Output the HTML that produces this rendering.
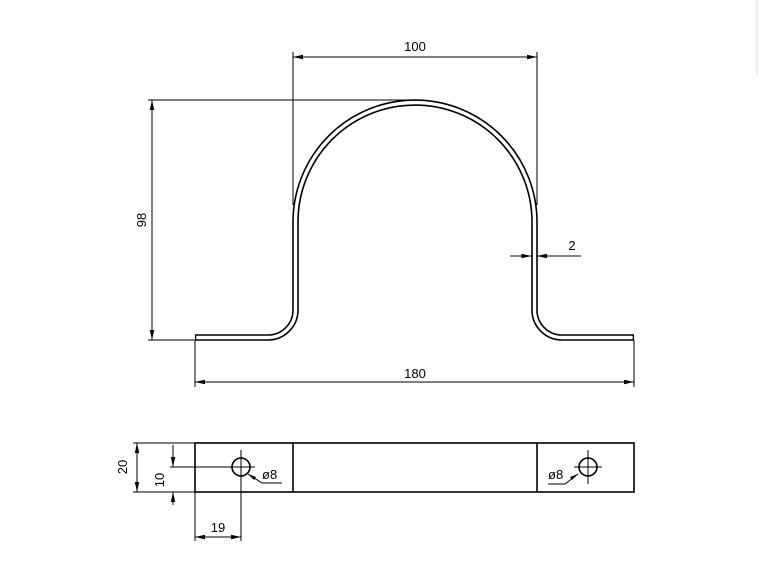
<!DOCTYPE html>
<html><head><meta charset="utf-8"><style>
html,body{margin:0;padding:0;background:#fff;width:769px;height:577px;overflow:hidden}
svg{display:block}
text{font-family:"Liberation Sans",sans-serif;font-size:13px;fill:#000}
</style></head><body>
<svg width="769" height="577" viewBox="0 0 769 577" xmlns="http://www.w3.org/2000/svg">
<defs>
<marker id="a" viewBox="0 0 10 6" refX="10" refY="3" markerWidth="10" markerHeight="6" markerUnits="userSpaceOnUse" orient="auto-start-reverse"><path d="M0,0.8 L10,3 L0,5.2z" fill="#000"/></marker>
</defs>
<line x1="757" y1="0" x2="757" y2="75" stroke="#ddd" stroke-width="1"/>
<!-- strip -->
<path d="M195,337.5 H268 A27.5,27.5 0 0 0 295.5,310 V222 A119.5,119.5 0 0 1 534.5,222 V310 A27.5,27.5 0 0 0 562,337.5 H634" fill="none" stroke="#000" stroke-width="6.6"/>
<path d="M196.3,337.5 H268 A27.5,27.5 0 0 0 295.5,310 V222 A119.5,119.5 0 0 1 534.5,222 V310 A27.5,27.5 0 0 0 562,337.5 H632.7" fill="none" stroke="#fff" stroke-width="3.4"/>
<g stroke="#000" stroke-width="1" fill="none">
<!-- 100 -->
<line x1="293" y1="52" x2="293" y2="205"/>
<line x1="537" y1="52" x2="537" y2="205"/>
<line x1="293" y1="57" x2="537" y2="57" marker-start="url(#a)" marker-end="url(#a)"/>
<!-- 98 -->
<line x1="148" y1="100" x2="415" y2="100"/>
<line x1="148" y1="340" x2="195" y2="340"/>
<line x1="152" y1="100" x2="152" y2="340" marker-start="url(#a)" marker-end="url(#a)"/>
<!-- 180 -->
<line x1="195" y1="340" x2="195" y2="387"/>
<line x1="634" y1="340" x2="634" y2="387"/>
<line x1="195" y1="382" x2="634" y2="382" marker-start="url(#a)" marker-end="url(#a)"/>
<!-- 2 -->
<line x1="510" y1="256" x2="531.5" y2="256" marker-end="url(#a)"/>
<line x1="581" y1="256" x2="537" y2="256" marker-end="url(#a)"/>
</g>
<text x="415" y="51" text-anchor="middle">100</text>
<text x="0" y="0" text-anchor="middle" transform="translate(146,220) rotate(-90)">98</text>
<text x="415" y="378" text-anchor="middle">180</text>
<text x="572" y="250" text-anchor="middle">2</text>
<!-- bottom view -->
<g stroke="#000" fill="none">
<rect x="195" y="443" width="439" height="49" stroke-width="1.6"/>
<line x1="293" y1="443" x2="293" y2="492" stroke-width="1.6"/>
<line x1="537" y1="443" x2="537" y2="492" stroke-width="1.6"/>
<circle cx="241" cy="467" r="9" stroke-width="1.6"/>
<circle cx="588" cy="467" r="9" stroke-width="1.6"/>
<g stroke-width="1">
<line x1="170" y1="467" x2="255" y2="467"/>
<line x1="241" y1="450" x2="241" y2="541"/>
<line x1="574" y1="467" x2="602" y2="467"/>
<line x1="588" y1="450" x2="588" y2="484"/>
<line x1="133" y1="443" x2="195" y2="443"/>
<line x1="133" y1="492" x2="195" y2="492"/>
<line x1="137" y1="443" x2="137" y2="492" marker-start="url(#a)" marker-end="url(#a)"/>
<line x1="173" y1="445" x2="173" y2="467" marker-end="url(#a)"/>
<line x1="173" y1="505" x2="173" y2="492" marker-end="url(#a)"/>
<line x1="195" y1="492" x2="195" y2="541"/>
<line x1="195" y1="537" x2="241" y2="537" marker-start="url(#a)" marker-end="url(#a)"/>
<polyline points="282,483 262,483 248,474"/>
<polyline points="548,484 565,484 578,474"/>
</g>
</g>
<polygon points="248,474 256,477 254,480" fill="#000"/>
<polygon points="578,474 570,477 572,480" fill="#000"/>
<text x="0" y="0" text-anchor="middle" transform="translate(127,467) rotate(-90)">20</text>
<text x="0" y="0" text-anchor="middle" transform="translate(164,480) rotate(-90)">10</text>
<text x="218" y="532" text-anchor="middle">19</text>
<text x="262" y="479">ø8</text>
<text x="548" y="479">ø8</text>
</svg>
</body></html>
